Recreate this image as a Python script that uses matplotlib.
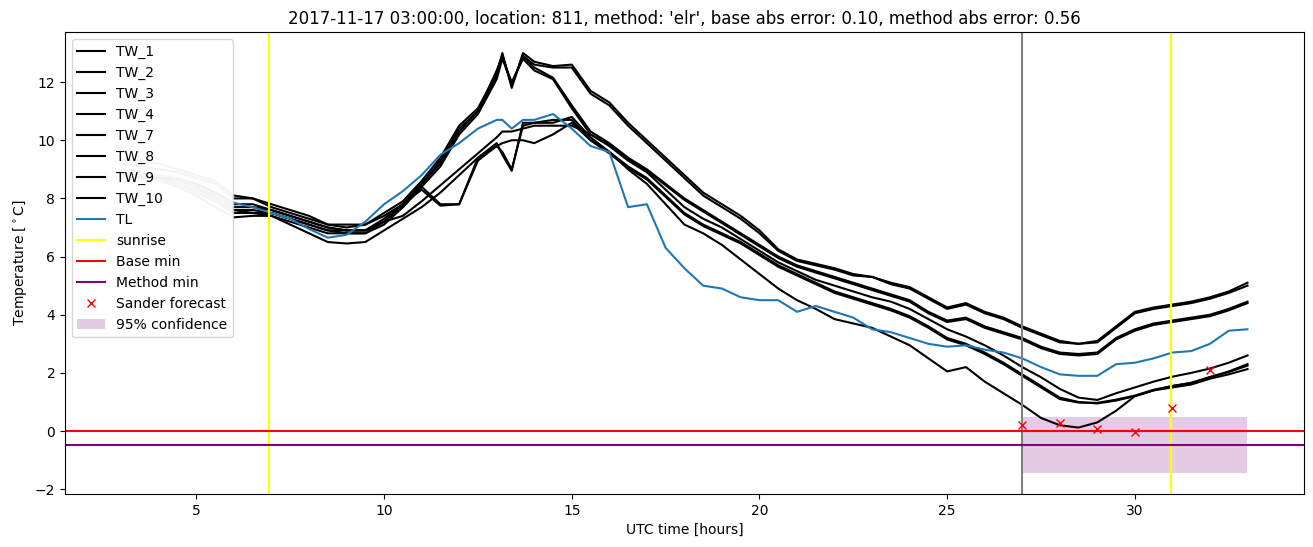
import matplotlib
matplotlib.use("Agg")
import matplotlib.pyplot as plt

hours = [3, 3.5, 4, 4.5, 5, 5.5, 6, 6.5, 7, 7.5, 8, 8.5, 9, 9.5, 10, 10.5, 11, 11.5, 12, 12.5,
         13, 13.15, 13.4, 13.7,
         14, 14.5, 15, 15.5, 16, 16.5, 17, 17.5, 18, 18.5, 19, 19.5, 20, 20.5, 21, 21.5, 22, 22.5,
         23, 23.5, 24, 24.5, 25, 25.5, 26, 26.5, 27, 27.5, 28, 28.5, 29, 29.5, 30, 30.5, 31, 31.5,
         32, 32.5, 33]

tw_1 = [9.3, 9.3, 9.2, 9.0, 8.8, 8.6, 8.1, 8.0, 7.8, 7.6, 7.4, 7.1, 7.1, 7.1, 7.5, 7.9, 8.6, 9.4, 10.5, 11.1,
        12.3, 13.0, 11.8, 13.0,
        12.7, 12.55, 12.6, 11.7, 11.3, 10.6, 10.0, 9.4, 8.8, 8.2, 7.8, 7.4, 6.9, 6.25, 5.9, 5.75, 5.6, 5.4,
        5.3, 5.1, 4.95, 4.6, 4.25, 4.4, 4.1, 3.9, 3.6, 3.35, 3.1, 3.0, 3.1, 3.6, 4.1, 4.25, 4.35, 4.45,
        4.6, 4.8, 5.1]
tw_2 = [9.2, 9.1, 9.0, 8.9, 8.7, 8.5, 8.0, 8.0, 7.7, 7.5, 7.3, 7.1, 7.0, 7.1, 7.4, 7.8, 8.5, 9.3, 10.4, 11.0,
        12.4, 12.9, 11.9, 12.9,
        12.6, 12.5, 12.5, 11.6, 11.2, 10.5, 9.9, 9.3, 8.7, 8.1, 7.7, 7.3, 6.8, 6.2, 5.85, 5.7, 5.55, 5.35,
        5.3, 5.05, 4.9, 4.55, 4.2, 4.35, 4.05, 3.85, 3.55, 3.3, 3.05, 3.0, 3.05, 3.55, 4.05, 4.2, 4.3, 4.4,
        4.55, 4.75, 5.0]
tw_3 = [9.0, 8.9, 8.8, 8.7, 8.5, 8.2, 7.8, 7.8, 7.6, 7.4, 7.2, 7.0, 6.9, 6.9, 7.3, 7.8, 8.5, 9.2, 10.3, 11.0,
        12.2, 12.9, 11.9, 12.9,
        12.5, 12.15, 11.2, 10.3, 9.9, 9.4, 9.0, 8.5, 8.0, 7.6, 7.2, 6.8, 6.4, 6.0, 5.7, 5.5, 5.3, 5.1,
        4.9, 4.7, 4.5, 4.1, 3.8, 3.9, 3.6, 3.4, 3.2, 2.9, 2.7, 2.65, 2.7, 3.2, 3.5, 3.7, 3.8, 3.9,
        4.0, 4.2, 4.45]
tw_4 = [8.9, 8.8, 8.8, 8.6, 8.4, 8.1, 7.7, 7.7, 7.6, 7.4, 7.2, 7.0, 6.9, 6.9, 7.2, 7.7, 8.4, 9.1, 10.2, 10.9,
        12.1, 12.8, 12.0, 12.8,
        12.4, 12.1, 11.1, 10.2, 9.85, 9.35, 8.95, 8.45, 7.95, 7.55, 7.15, 6.75, 6.35, 5.95, 5.65, 5.45, 5.25, 5.05,
        4.85, 4.65, 4.45, 4.05, 3.75, 3.85, 3.55, 3.35, 3.15, 2.85, 2.65, 2.6, 2.65, 3.15, 3.45, 3.65, 3.75, 3.85,
        3.95, 4.15, 4.4]
tw_7 = [8.8, 8.8, 8.7, 8.6, 8.4, 8.0, 7.6, 7.6, 7.5, 7.3, 7.1, 6.9, 6.9, 6.9, 7.2, 7.4, 7.9, 8.45, 9.0, 9.55,
        10.1, 10.3, 10.3, 10.4,
        10.5, 10.5, 10.5, 10.2, 9.8, 9.3, 8.9, 8.3, 7.7, 7.3, 7.0, 6.6, 6.2, 5.8, 5.5, 5.2, 5.0, 4.8,
        4.6, 4.45, 4.2, 3.85, 3.5, 3.25, 2.95, 2.6, 2.2, 1.85, 1.45, 1.15, 1.07, 1.3, 1.5, 1.7, 1.87, 2.0,
        2.15, 2.35, 2.6]
tw_8 = [8.9, 8.8, 8.7, 8.5, 8.3, 8.0, 7.6, 7.5, 7.5, 7.3, 7.1, 6.9, 6.8, 6.8, 7.2, 7.8, 8.3, 7.75, 7.8, 9.4,
        9.9, 9.5, 8.95, 10.6,
        10.6, 10.6, 10.8, 10.1, 9.6, 9.1, 8.7, 8.1, 7.5, 7.1, 6.8, 6.5, 6.1, 5.7, 5.4, 5.1, 4.8, 4.6,
        4.4, 4.2, 3.95, 3.6, 3.2, 3.0, 2.7, 2.35, 1.95, 1.55, 1.15, 1.0, 0.95, 1.05, 1.2, 1.4, 1.55, 1.65,
        1.85, 2.05, 2.3]
tw_9 = [8.8, 8.8, 8.6, 8.5, 8.2, 7.9, 7.5, 7.5, 7.4, 7.2, 7.0, 6.8, 6.8, 6.8, 7.1, 7.7, 8.4, 7.8, 7.8, 9.3,
        9.8, 9.6, 9.0, 10.5,
        10.6, 10.7, 10.7, 10.0, 9.55, 9.05, 8.65, 8.05, 7.45, 7.05, 6.75, 6.45, 6.05, 5.65, 5.35, 5.05, 4.75, 4.55,
        4.35, 4.15, 3.9, 3.55, 3.15, 2.95, 2.65, 2.3, 1.9, 1.5, 1.1, 0.98, 0.97, 1.08, 1.22, 1.42, 1.55, 1.66,
        1.86, 2.03, 2.25]
tw_10 = [8.8, 8.7, 8.6, 8.4, 8.1, 7.7, 7.35, 7.4, 7.4, 7.1, 6.8, 6.5, 6.45, 6.5, 6.9, 7.3, 7.7, 8.2, 8.8, 9.4,
         9.8, 9.9, 10.0, 10.0,
         9.9, 10.2, 10.6, 10.0, 9.6, 9.0, 8.5, 7.8, 7.1, 6.8, 6.4, 5.9, 5.4, 4.9, 4.5, 4.2, 3.85, 3.7,
         3.55, 3.25, 2.95, 2.5, 2.05, 2.2, 1.7, 1.3, 0.9, 0.45, 0.2, 0.12, 0.3, 0.7, 1.2, 1.4, 1.5, 1.6,
         1.8, 1.95, 2.13]
tl = [8.8, 8.75, 8.7, 8.65, 8.5, 8.2, 7.85, 7.7, 7.5, 7.3, 6.95, 6.65, 6.75, 7.2, 7.8, 8.25, 8.8, 9.5, 9.9, 10.4,
      10.7, 10.7, 10.4, 10.7,
      10.7, 10.9, 10.4, 9.8, 9.6, 7.7, 7.8, 6.3, 5.6, 5.0, 4.9, 4.6, 4.5, 4.5, 4.1, 4.3, 4.1, 3.9,
      3.5, 3.4, 3.2, 3.0, 2.9, 2.95, 2.8, 2.7, 2.5, 2.2, 1.95, 1.9, 1.9, 2.3, 2.35, 2.5, 2.7, 2.75,
      3.0, 3.45, 3.5]

tw_names = ['TW_1', 'TW_2', 'TW_3', 'TW_4', 'TW_7', 'TW_8', 'TW_9', 'TW_10']
tw_series = [tw_1, tw_2, tw_3, tw_4, tw_7, tw_8, tw_9, tw_10]

sunrise = [6.93, 30.97]
forecast_time = 27
base_min = 0.0
method_min = -0.47
conf_low, conf_high = -1.44, 0.49
sander_hours = [27, 28, 29, 30, 31, 32]
sander_vals = [0.2, 0.28, 0.06, -0.02, 0.78, 2.1]

start = hours.index(6)

fig, ax = plt.subplots(figsize=(13.13, 5.47), dpi=100)
fig.subplots_adjust(left=0.0495, right=0.993, top=0.9415, bottom=0.097)

for name, vals in zip(tw_names, tw_series):
    ax.plot(hours[:start + 1], vals[:start + 1], color='#cccccc')
for name, vals in zip(tw_names, tw_series):
    ax.plot(hours[start:], vals[start:], color='black', label=name)
ax.plot(hours[:start + 1], tl[:start + 1], color='C0', alpha=0.25)
ax.plot(hours[start:], tl[start:], color='C0', label='TL')

for i, s in enumerate(sunrise):
    ax.axvline(s, color='yellow', label='sunrise' if i == 0 else None)
ax.axvline(forecast_time, color='grey')
ax.axhline(base_min, color='red', label='Base min')
ax.axhline(method_min, color='purple', label='Method min')
ax.plot(sander_hours, sander_vals, 'rx', label='Sander forecast')
ax.fill_between([forecast_time, hours[-1]], conf_low, conf_high, color='purple', alpha=0.2,
                linewidth=0, label='95% confidence')

ax.set_xlabel('UTC time [hours]')
ax.set_ylabel(r'Temperature [$^\circ$C]')
ax.set_title("2017-11-17 03:00:00, location: 811, method: 'elr', base abs error: 0.10, method abs error: 0.56")
ax.legend(loc='upper left')

plt.savefig('out.png')
